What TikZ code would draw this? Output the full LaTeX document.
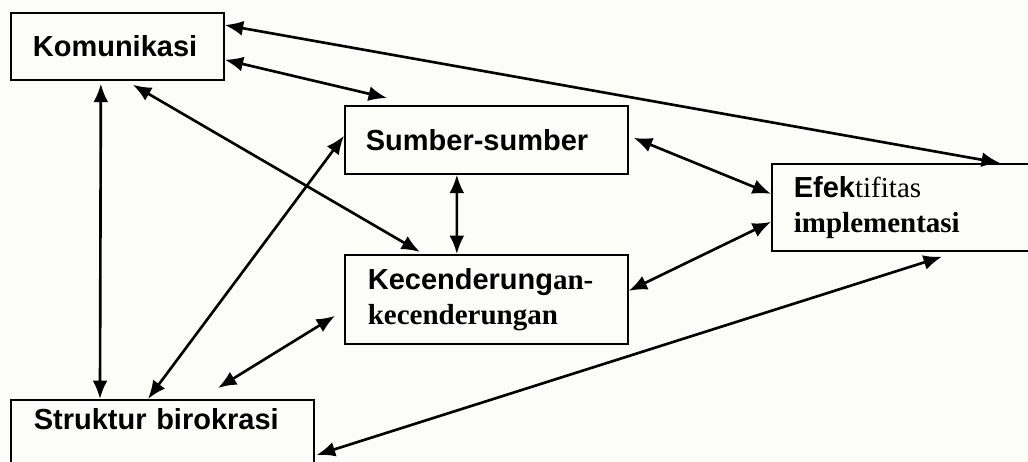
\documentclass[tikz,border=0pt]{standalone}
\usepackage{fontspec}
\setmainfont{Liberation Serif}
\setsansfont{Liberation Sans}
\usepackage{tikz}
\usetikzlibrary{arrows.meta}
\definecolor{paper}{RGB}{252,252,248}
\tikzstyle{blok} = [rectangle, draw=black, line width=1pt, anchor=north west, font=\fontsize{16.5}{20}\selectfont]
\tikzstyle{arrow} = [line width=1.5pt, {Latex[length=10.5pt,width=8.5pt]}-{Latex[length=10.5pt,width=8.5pt]}]

\begin{document}
\begin{tikzpicture}[x=0.02cm, y=-0.02cm]
				\clip (0,0) rectangle (1028,462);
				\fill [paper] (0,0) rectangle (1028,462);
				\node (kom) [blok, minimum width=4.26cm, minimum height=1.34cm, inner xsep=0.44cm, text width=3.38cm, align=left] at (10,12) {\sffamily\bfseries Komunikasi};
				\node (sum) [blok, minimum width=5.66cm, minimum height=1.36cm, inner xsep=0.42cm, text width=4.82cm, align=left] at (344,105) {\sffamily\bfseries Sumber-sumber};
				\node (kec) [blok, minimum width=5.66cm, minimum height=1.78cm, inner xsep=0.46cm, text width=4.74cm, align=left] at (344,254) {{\sffamily\bfseries Kecenderung}{\bfseries an-}\\{\bfseries kecenderungan}};
				\node (efe) [blok, minimum height=1.74cm, inner xsep=0.44cm, text width=5.6cm, align=left] at (771,163) {{\sffamily\bfseries Efek}tifitas\\{\bfseries implementasi}};
				\node (str) [blok, inner xsep=0.46cm, inner ysep=0.2cm, text width=5.14cm, text height=0.4cm, text depth=1.4cm, align=left] at (10,399) {\sffamily\bfseries Struktur birokrasi};

				\draw [arrow] ([yshift=-0.26cm]kom.north east) -- ([xshift=4.58cm]efe.north west);
				\draw [arrow] ([yshift=0.42cm]kom.south east) -- ([xshift=0.86cm,yshift=0.14cm]sum.north west);
				\draw [arrow] ([xshift=0.31cm,yshift=-0.08cm]kom.south) -- ([xshift=1.52cm,yshift=0.04cm]kec.north west);
				\draw [arrow] ([xshift=-0.33cm,yshift=-0.06cm]kom.south) -- ([xshift=1.8cm]str.north west);
				\draw [arrow] ([yshift=0.08cm]sum.west) -- ([xshift=2.76cm]str.north west);
				\draw [arrow] ([xshift=-0.59cm]sum.south) -- ([xshift=-0.59cm]kec.north);
				\draw [arrow] ([xshift=0.1cm,yshift=0.04cm]sum.east) -- ([yshift=0.27cm]efe.west);
				\draw [arrow] ([yshift=0.17cm]kec.east) -- ([yshift=-0.29cm]efe.west);
				\draw [arrow] ([xshift=-0.18cm,yshift=-0.33cm]kec.west) -- ([xshift=4.16cm,yshift=0.22cm]str.north west);
				\draw [arrow] ([xshift=0.04cm,yshift=-1.12cm]str.north east) -- ([xshift=3.42cm,yshift=-0.1cm]efe.south west);
			\end{tikzpicture}
\end{document}
